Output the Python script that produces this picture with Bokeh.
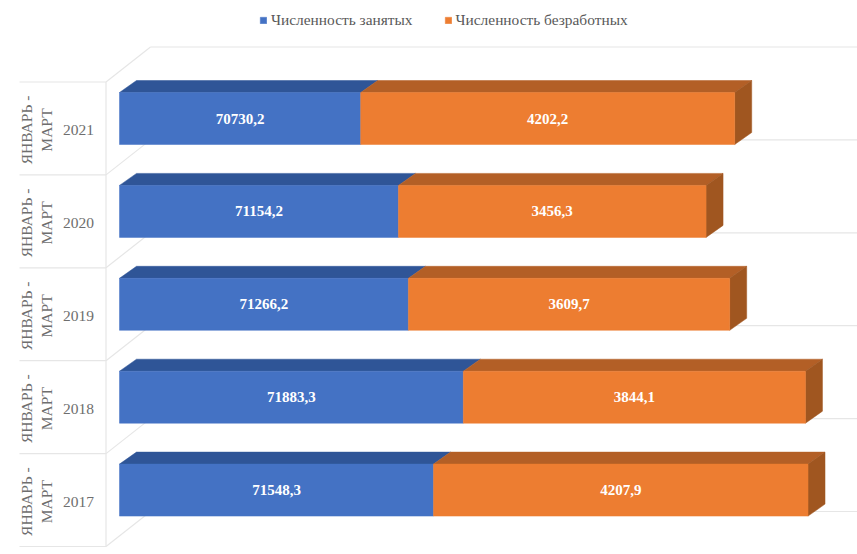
from bokeh.plotting import figure
from bokeh.models import Legend, LegendItem, ColumnDataSource, Range1d
from bokeh.core.properties import value
from bokeh.embed import file_html
from bokeh.resources import INLINE

years = ["2017", "2018", "2019", "2020", "2021"]
period_label = "ЯНВАРЬ -\nМАРТ"
employed = [71548.3, 71883.3, 71266.2, 71154.2, 70730.2]
unemployed = [4207.9, 3844.1, 3609.7, 3456.3, 4202.2]
series_names = ["Численность занятых", "Численность безработных"]

W, H = 857, 554
PX_PER_UNIT = 0.0890
AXIS_MIN = 68020.0
X_AT_MIN = 119
ROW = 92.9
Y_AT_ZERO = 489.6


def xd(px):
    return AXIS_MIN + (px - X_AT_MIN) / PX_PER_UNIT


def yd(px):
    return (Y_AT_ZERO - px) / ROW


DX = 17 / PX_PER_UNIT
DY = 12 / ROW
BAR_H = 52 / ROW

p = figure(width=W, height=H, output_backend="svg", toolbar_location=None,
           x_range=Range1d(xd(0), xd(W)), y_range=Range1d(yd(H), yd(0)),
           min_border=0, background_fill_color="white", border_fill_color="white", outline_line_color=None)
p.axis.visible = False
p.grid.visible = False

idx = list(range(len(years)))
GRID = "#e6e6e6"

# chart-box lines: category separators, side-wall diagonals and back-wall lines
edges = [i + (Y_AT_ZERO - 546) / ROW for i in range(len(years) + 1)]
wall_x = xd(105.5)
back_x = xd(150)
edge_dy = 35 / ROW
p.segment(x0=[xd(19)] * len(edges), x1=[wall_x] * len(edges), y0=edges, y1=edges, line_color=GRID, line_width=1.2)
p.segment(x0=[wall_x] * len(edges), x1=[back_x] * len(edges), y0=edges,
          y1=[e + edge_dy for e in edges], line_color=GRID, line_width=1.2)
p.segment(x0=[back_x] * len(edges), x1=[xd(W)] * len(edges), y0=[e + edge_dy for e in edges],
          y1=[e + edge_dy for e in edges], line_color=GRID, line_width=1.2)
p.segment(x0=[wall_x], x1=[wall_x], y0=[edges[0]], y1=[edges[-1]], line_color=GRID, line_width=1.2)

totals = [a + b for a, b in zip(employed, unemployed)]
tops = [i + BAR_H / 2 for i in idx]
bots = [i - BAR_H / 2 for i in idx]


def top_face(lefts, rights):
    xs = [[l, r, r + DX, l + DX] for l, r in zip(lefts, rights)]
    ys = [[t, t, t + DY, t + DY] for t in tops]
    return xs, ys


mins = [AXIS_MIN] * len(idx)
xs, ys = top_face(mins, employed)
p.patches(xs, ys, fill_color="#2f5597", line_color="#2f5597", line_width=0.5)
xs, ys = top_face(employed, totals)
p.patches(xs, ys, fill_color="#b35f26", line_color="#b35f26", line_width=0.5)
side_x = [[r, r + DX, r + DX, r] for r in totals]
side_y = [[b, b + DY, t + DY, t] for b, t in zip(bots, tops)]
p.patches(side_x, side_y, fill_color="#a05620", line_color="#a05620", line_width=0.5)

blue = p.hbar(y=idx, left=mins, right=employed, height=BAR_H, fill_color="#4472c4", line_color="#4472c4", line_width=0.5)
orange = p.hbar(y=idx, left=employed, right=totals, height=BAR_H, fill_color="#ed7d31", line_color="#ed7d31", line_width=0.5)

# data labels
fmt = lambda v: f"{v:.1f}".replace(".", ",")
serif = value("Liberation Serif")
for lefts, rights, vals in ((mins, employed, employed), (employed, totals, unemployed)):
    src = ColumnDataSource(dict(x=[(l + r) / 2 for l, r in zip(lefts, rights)], y=idx, t=[fmt(v) for v in vals]))
    p.text(x="x", y="y", text="t", source=src, text_color="white", text_font=serif, text_font_style="bold",
           text_font_size="15px", text_align="center", text_baseline="middle")

# category labels
cell_mid = [i - 11.5 / ROW for i in idx]
p.text(x=[xd(78)] * len(idx), y=cell_mid, text=years, text_color="#6e6e6e", text_font=serif,
       text_font_size="15.5px", text_align="center", text_baseline="middle")
p.text(x=[xd(36)] * len(idx), y=cell_mid, text=[period_label] * len(idx), angle=1.5708, text_color="#6e6e6e",
       text_font=serif, text_font_size="15.5px", text_align="center", text_baseline="middle")

legend = Legend(items=[LegendItem(label=series_names[0], renderers=[blue]),
                       LegendItem(label=series_names[1], renderers=[orange])],
                orientation="horizontal", location=(259, H - 29), background_fill_alpha=0, border_line_color=None,
                glyph_width=8, glyph_height=8, label_text_font="Liberation Serif", label_text_font_size="15.4px",
                label_text_color="#595959", padding=0, margin=0, spacing=31, label_standoff=4,
                label_height=16)
p.add_layout(legend, "center")

open("out.html", "w").write(file_html(p, INLINE))
